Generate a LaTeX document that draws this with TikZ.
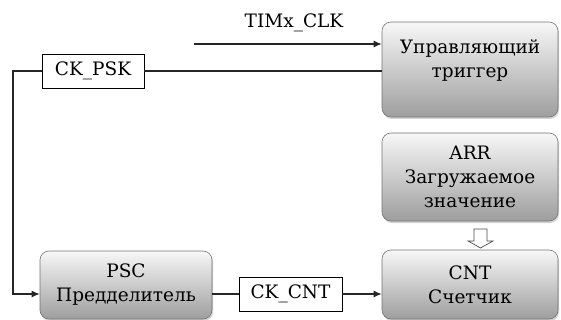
\documentclass[tikz,border=0pt]{standalone}
\usepackage{fontspec}
\newfontfamily\tnr{DejaVu Serif}
\usetikzlibrary{arrows.meta,shadows,calc}
\begin{document}
\begin{tikzpicture}[x=1pt,y=-1pt,
  txt/.style={font=\tnr\fontsize{18.5}{24}\selectfont, align=center, inner sep=0pt},
  blk/.style={txt, rounded corners=9pt, draw=black!55, line width=0.6pt,
    top color=black!3, bottom color=black!38,
    drop shadow={shadow xshift=1pt, shadow yshift=-2pt, opacity=0.35}},
  lbl/.style={txt, draw=black, line width=0.8pt, fill=white, minimum height=34pt},
  wire/.style={line width=1.2pt, draw=black!85},
  arrw/.style={wire, -{Latex[length=8pt,width=7pt]}},
  hollow/.style={line width=0.7pt, draw=black!70, fill=white}
]
\useasboundingbox (0,0) rectangle (561,320);
\node[blk, minimum width=176pt, minimum height=95pt] (trig) at (470,69.5) {};
\node[txt] (trigtxt) at (470,61) {Управляющий\\триггер};
\node[blk, minimum width=176pt, minimum height=88pt] (arr) at (470,177) {ARR\\Загружаемое\\значение};
\node[blk, minimum width=176pt, minimum height=69pt] (cnt) at (470,284.5) {CNT\\Счетчик};
\node[blk, minimum width=172pt, minimum height=68pt] (psc) at (126,285) {PSC\\Предделитель};
\node[lbl, minimum width=102pt] (ckpsk) at (93,71) {CK\_PSK};
\node[lbl, minimum width=103pt] (ckcnt) at (290.5,294) {CK\_CNT};
\node[txt] (timx) at (294,23) {TIMx\_CLK};
\coordinate (clkstart) at (194,44);
\coordinate (corner) at (13,71);
\draw[arrw] (clkstart) -- (clkstart -| trig.west);
\draw[wire] (trig.west |- ckpsk) -- (ckpsk.east);
\draw[arrw] (ckpsk.west) -- (corner) -- (corner |- ckcnt) -- (psc.west |- ckcnt);
\draw[wire] (psc.east |- ckcnt) -- (ckcnt.west);
\draw[arrw] (ckcnt.east) -- (cnt.west |- ckcnt);
\draw[hollow] (474,229) -- (487,229) -- (487,241) -- (493,241) -- (480.5,248) -- (468,241) -- (474,241) -- cycle;
\end{tikzpicture}
\end{document}
